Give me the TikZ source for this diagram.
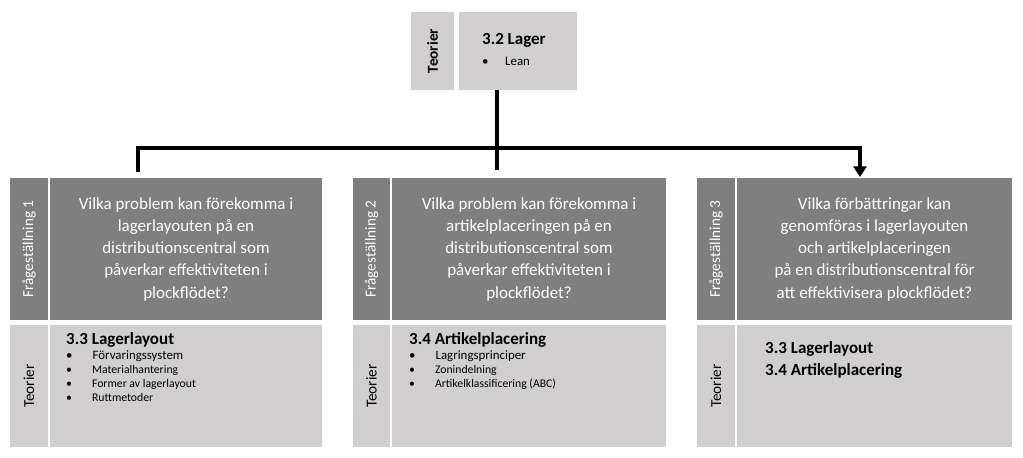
\documentclass[tikz,border=0pt]{standalone}
\usepackage{fontspec}
\setmainfont{Carlito}
\usetikzlibrary{positioning,arrows.meta}
\definecolor{darkbox}{HTML}{7F7F7F}
\definecolor{lightbox}{HTML}{D0CECE}
\tikzset{
  side/.style={inner sep=0pt,rotate=90,minimum height=38*0.3mm,font=\fontsize{13}{15}\selectfont},
  question/.style={fill=darkbox,text=white,align=center,inner sep=0pt,font=\fontsize{14.5}{19}\selectfont},
  theory/.style={fill=lightbox,inner sep=0pt},
  link/.style={line width=2.6pt}
}
\begin{document}
\begin{tikzpicture}[x=0.3mm,y=-0.3mm]
  \useasboundingbox (0,0) rectangle (1023,457);
  % top box
  \fill[lightbox] (411,12) rectangle (454,90);
  \fill[lightbox] (459,12) rectangle (577,90);
  \node[side,font=\fontsize{13}{15}\selectfont\bfseries] (topside) at (432.5,51) {Teorier};
  \node[anchor=west,font=\fontsize{14.5}{17}\selectfont\bfseries] (toptitle) at (478,40) {3.2 Lager};
  \node[anchor=west,font=\fontsize{11}{13}\selectfont] (toplist) at (478,61) {•\hspace{5mm}Lean};
  % columns
  \foreach \sx/\qx/\qr in {10/50/322,353/392/666,697/737/1012}{
    \fill[darkbox] (\sx,178) rectangle (\qx-2,320);
    \fill[darkbox] (\qx,178) rectangle (\qr,320);
    \fill[lightbox] (\sx,325) rectangle (\qx-2,447);
    \fill[lightbox] (\qx,325) rectangle (\qr,447);
  }
  \node[side,text=white] (side1) at (29,249) {Frågeställning 1};
  \node[side,text=white] (side2) at (371.5,249) {Frågeställning 2};
  \node[side,text=white] (side3) at (716,249) {Frågeställning 3};
  \node[side] (teo1) at (29,386) {Teorier};
  \node[side] (teo2) at (371.5,386) {Teorier};
  \node[side] (teo3) at (716,386) {Teorier};
  \node[question] (q1) at (186,249) {Vilka problem kan förekomma i\\lagerlayouten på en\\distributionscentral som\\påverkar effektiviteten i\\plockflödet?};
  \node[question] (q2) at (529,249) {Vilka problem kan förekomma i\\artikelplaceringen på en\\distributionscentral som\\påverkar effektiviteten i\\plockflödet?};
  \node[question] (q3) at (874.5,249) {Vilka förbättringar kan\\genomföras i lagerlayouten\\och artikelplaceringen\\på en distributionscentral för\\att effektivisera plockflödet?};
  \node[anchor=north west,align=left,inner sep=0pt] (t1) at (66,332) {{\fontsize{14.5}{17}\selectfont\bfseries 3.3 Lagerlayout}\\[1pt]
    \fontsize{11}{15.5}\selectfont •\hspace{6mm}Förvaringssystem\\ •\hspace{6mm}Materialhantering\\ •\hspace{6mm}Former av lagerlayout\\ •\hspace{6mm}Ruttmetoder};
  \node[anchor=north west,align=left,inner sep=0pt] (t2) at (409,332) {{\fontsize{14.5}{17}\selectfont\bfseries 3.4 Artikelplacering}\\[1pt]
    \fontsize{11}{15.5}\selectfont •\hspace{6mm}Lagringsprinciper\\ •\hspace{6mm}Zonindelning\\ •\hspace{6mm}Artikelklassificering (ABC)};
  \node[anchor=north west,align=left,inner sep=0pt,font=\fontsize{14.5}{19}\selectfont\bfseries] (t3) at (765,341) {3.3 Lagerlayout\\3.4 Artikelplacering};
  % connectors
  \coordinate (stem) at (497,90);
  \coordinate (stemend) at (497,170);
  \coordinate (leftend) at (138,172);
  \coordinate (rightend) at (860,177);
  \draw[link] (stem) -- (stemend);
  \draw[link] (leftend) -- (leftend |- 0,148) -- (rightend |- 0,148);
  \draw[link,-{Triangle[length=9pt,width=11pt]}] ([yshift=1.3]rightend |- 0,148) -- (rightend);
\end{tikzpicture}
\end{document}
